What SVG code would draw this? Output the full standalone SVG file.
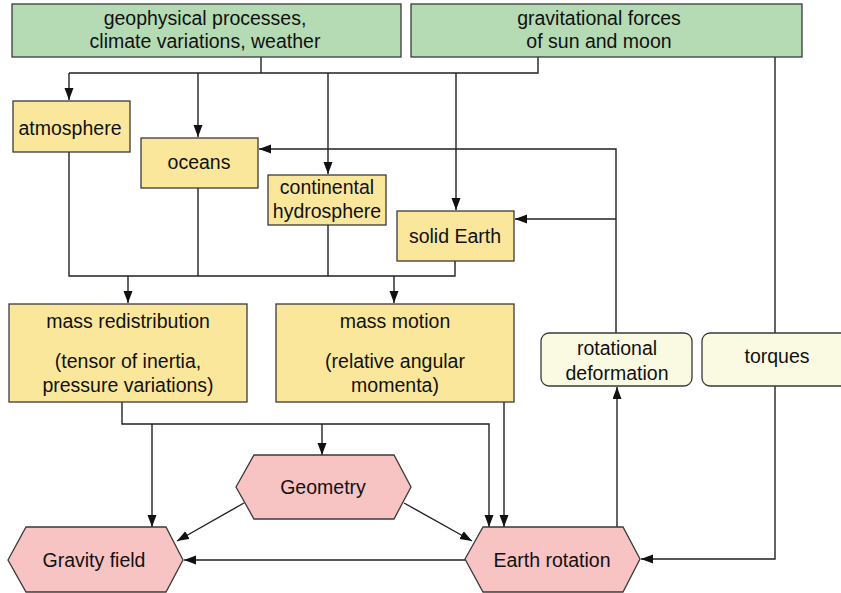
<svg xmlns="http://www.w3.org/2000/svg" width="841" height="593" viewBox="0 0 841 593">
<defs>
<marker id="ah" markerUnits="userSpaceOnUse" markerWidth="13" markerHeight="10" refX="12" refY="4.5" orient="auto">
<path d="M0,0 L12,4.5 L0,9 z" fill="#111"/>
</marker>
<style>
.g{fill:#b4dbb4;stroke:#3a3a3a;stroke-width:1.3}
.y{fill:#fbe79c;stroke:#3a3a3a;stroke-width:1.3}
.p{fill:#f7c3c3;stroke:#3a3a3a;stroke-width:1.3}
.c{fill:#fafae3;stroke:#3a3a3a;stroke-width:1.3}
.t{font-family:"Liberation Sans",Arial,sans-serif;font-size:19.5px;fill:#111;text-anchor:middle}
.l{fill:none;stroke:#222;stroke-width:1.4}
.a{fill:none;stroke:#222;stroke-width:1.4;marker-end:url(#ah)}
</style>
</defs>
<rect width="841" height="593" fill="#fff"/>
<g id="connectors">
<path class="l" d="M261,57 V73 M69,73 H538 V57"/>
<path class="a" d="M69,73 V100"/>
<path class="a" d="M198,73 V137"/>
<path class="a" d="M328,73 V174"/>
<path class="a" d="M456,73 V210"/>
<path class="l" d="M69,152 V276 H455 V261 M198,188 V276 M328,225 V276"/>
<path class="a" d="M128,276 V303"/>
<path class="a" d="M394,276 V303"/>
<path class="a" d="M616,333 V149 H259"/>
<path class="a" d="M616,219 H515"/>
<path class="a" d="M122,402 V424 H489 V527"/>
<path class="a" d="M152,424 V527"/>
<path class="a" d="M322,424 V455"/>
<path class="a" d="M504,402 V527"/>
<path class="a" d="M244,503 L177,541"/>
<path class="a" d="M404,503 L472,541"/>
<path class="a" d="M465,560 H184"/>
<path class="a" d="M617,527 V387"/>
<path class="l" d="M775,57 V333"/>
<path class="a" d="M775,386 V559 H641"/>
</g>
<g id="geophysical">
<rect class="g" x="12" y="4" width="389" height="53"/>
<text class="t" x="205" y="25">geophysical processes,</text>
<text class="t" x="205" y="48">climate variations, weather</text>
</g>
<g id="gravitational">
<rect class="g" x="411" y="4" width="391" height="53"/>
<text class="t" x="599" y="25">gravitational forces</text>
<text class="t" x="599" y="48">of sun and moon</text>
</g>
<g id="atmosphere">
<rect class="y" x="13" y="101" width="117" height="51"/>
<text class="t" x="70" y="135">atmosphere</text>
</g>
<g id="oceans">
<rect class="y" x="141" y="138" width="117" height="50"/>
<text class="t" x="199" y="169">oceans</text>
</g>
<g id="continental">
<rect class="y" x="268" y="175" width="118" height="50"/>
<text class="t" x="327" y="194">continental</text>
<text class="t" x="327" y="218">hydrosphere</text>
</g>
<g id="solidearth">
<rect class="y" x="397" y="211" width="117" height="50"/>
<text class="t" x="455" y="243">solid Earth</text>
</g>
<g id="massredistribution">
<rect class="y" x="9" y="304" width="238" height="98"/>
<text class="t" x="128" y="328">mass redistribution</text>
<text class="t" x="128" y="368">(tensor of inertia,</text>
<text class="t" x="128" y="392">pressure variations)</text>
</g>
<g id="massmotion">
<rect class="y" x="276" y="304" width="238" height="98"/>
<text class="t" x="395" y="328">mass motion</text>
<text class="t" x="395" y="368">(relative angular</text>
<text class="t" x="395" y="392">momenta)</text>
</g>
<g id="rotdeform">
<rect class="c" x="541" y="333" width="151" height="53" rx="8"/>
<text class="t" x="617" y="355">rotational</text>
<text class="t" x="617" y="380">deformation</text>
</g>
<g id="torques">
<rect class="c" x="702" y="333" width="150" height="53" rx="8"/>
<text class="t" x="777" y="363">torques</text>
</g>
<g id="geometry">
<polygon class="p" points="236,487 254,455 394,455 411,487 394,519 254,519"/>
<text class="t" x="323" y="494">Geometry</text>
</g>
<g id="gravityfield">
<polygon class="p" points="8,560 26,527 166,527 183,560 166,592 26,592"/>
<text class="t" x="94" y="567">Gravity field</text>
</g>
<g id="earthrotation">
<polygon class="p" points="465,559 483,527 623,527 640,559 623,592 483,592"/>
<text class="t" x="552" y="567">Earth rotation</text>
</g>
</svg>
